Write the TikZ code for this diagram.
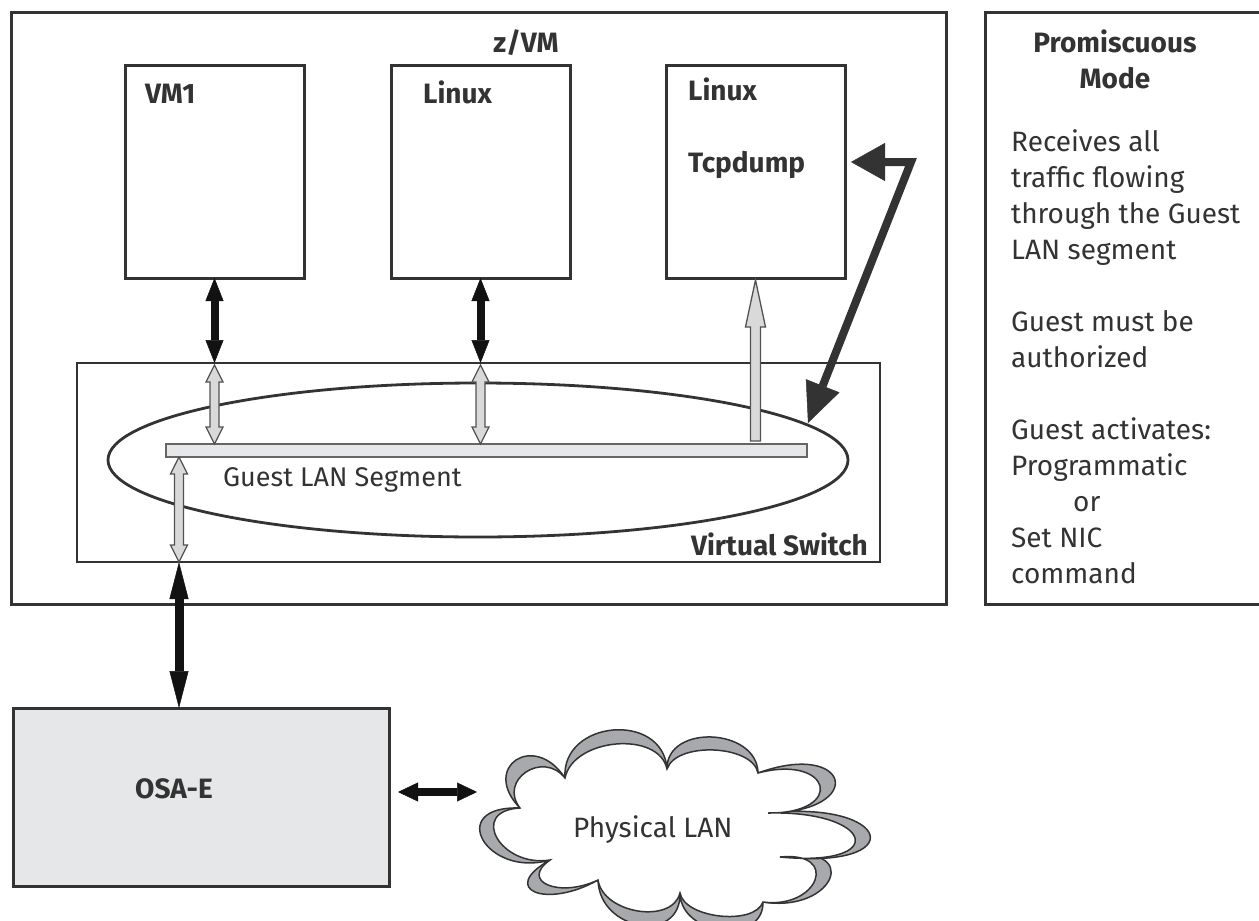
\documentclass[tikz,border=0pt]{standalone}
\usepackage{fontspec}
\setmainfont{Fira Sans}
\usetikzlibrary{arrows.meta,shapes.geometric,calc}
\definecolor{dark}{HTML}{333333}
\definecolor{lightfill}{HTML}{E6E7E8}
\definecolor{arrowgray}{HTML}{D9D9D9}
\definecolor{cloudgray}{HTML}{A7A9AC}
\newcommand\lobe[7]{.. controls ({(8*#5-#1-#3)/6+#7*(#1-#3)},{(8*#6-#2-#4)/6+#7*(#2-#4)}) and ({(8*#5-#1-#3)/6-#7*(#1-#3)},{(8*#6-#2-#4)/6-#7*(#2-#4)}) .. (#3,#4)}
\newcommand\gdbl[2]{\filldraw[grayarrow] let \p1=(#1), \p2=(#2) in
 (\x1-4.5pt,\y1-17pt) -- (\x1-8.5pt,\y1-17pt) -- (\x1,\y1) -- (\x1+8.5pt,\y1-17pt) -- (\x1+4.5pt,\y1-17pt)
 -- (\x1+4.5pt,\y2+17pt) -- (\x1+8.5pt,\y2+17pt) -- (\x1,\y2) -- (\x1-8.5pt,\y2+17pt) -- (\x1-4.5pt,\y2+17pt) -- cycle;}
\newcommand\gup[2]{\filldraw[grayarrow] let \p1=(#1), \p2=(#2) in
 (\x1,\y1) -- (\x1+10pt,\y1-47pt) -- (\x1+5pt,\y1-47pt) -- (\x1+5pt,\y2) -- (\x1-5pt,\y2) -- (\x1-5pt,\y1-47pt) -- (\x1-10pt,\y1-47pt) -- cycle;}
\begin{document}
\begin{tikzpicture}[x=1pt,y=-1pt,
  box/.style={draw=dark, line width=3pt, rectangle, inner sep=0pt, outer sep=0pt, anchor=north west},
  lbl/.style={inner sep=0pt, text=dark, font=\fontsize{28}{36}\selectfont\bfseries},
  txt/.style={inner sep=0pt, text=dark, font=\fontsize{28}{36}\selectfont},
  grayarrow/.style={fill=arrowgray, draw=black!68, line width=1.3pt, line join=miter},
  blackarrow/.style={draw=black!93, line width=8pt},
  cloudout/.style={fill=cloudgray, draw=dark, line width=1.5pt},
  cloudin/.style={fill=white, draw=dark, line width=1.5pt}]
\useasboundingbox (0,0) rectangle (1259,921);
\fill[white] (0,0) rectangle (1259,921);

% boxes
\node[box, minimum width=935pt, minimum height=592pt] (zvm) at (11,12) {};
\node[box, minimum width=179pt, minimum height=213pt] (vm1) at (125,65) {};
\node[box, minimum width=179pt, minimum height=213pt] (lx1) at (391,65) {};
\node[box, minimum width=179pt, minimum height=213pt] (lx2) at (666,65) {};
\node[box, line width=2.6pt, minimum width=803pt, minimum height=199pt] (vsw) at (77,363) {};
\node[ellipse, draw=dark, line width=2.8pt, minimum width=740pt, minimum height=154pt, inner sep=0pt] (ell) at (478,460) {};
\node[box, draw=black!60, line width=1.3pt, fill=lightfill, minimum width=641pt, minimum height=13pt] (bar) at (166,444) {};
\node[box, fill=lightfill, minimum width=376pt, minimum height=178pt] (osa) at (13,708) {};
\node[box, minimum width=290pt, minimum height=592pt] (panel) at (985,12) {};

% labels
\node[lbl, anchor=base] (zvmlbl) at (526,52) {z/VM};
\node[lbl, anchor=base west] (vm1lbl) at (145,103) {VM1};
\node[lbl, anchor=base west] (lx1lbl) at (423,103) {Linux};
\node[lbl, anchor=base west] (lx2lbl) at (688,100) {Linux};
\node[lbl, anchor=base west] (tcplbl) at (688,172) {Tcpdump};
\node[lbl, anchor=base east] (vswlbl) at (868,555) {Virtual Switch};
\node[lbl, anchor=base west] (osalbl) at (135,798) {OSA-E};
\node[txt, anchor=base west, font=\fontsize{27}{36}\selectfont] (seglbl) at (223,486) {Guest LAN Segment};

% panel text
\node[lbl, anchor=base] (p1) at (1115,52) {Promiscuous};
\node[lbl, anchor=base] (p2) at (1115,88) {Mode};
\foreach \t/\yy [count=\i] in {Receives all/151, traffic flowing/187, through the Guest/223, LAN segment/259,
  Guest must be/331, authorized/367, Guest activates:/439, Programmatic/475, Set NIC/547, command/583}
  \node[txt, anchor=base west] (pt\i) at (1011,\yy) {\t};
\node[txt, anchor=base west] (ptor) at (1073,511) {or};

% coordinates for connectors
\coordinate (gl) at ([xshift=13pt]bar.south west);
\coordinate (bentS) at ([xshift=6pt,yshift=9.5pt]lx2.east);
\coordinate (bentC) at (911,162);
\coordinate (bentE) at (808,423);
\coordinate (hS) at ([xshift=9pt]osa.east |- 0,792);
\coordinate (cloudL) at (477,792);

% black arrows
\draw[blackarrow, {Triangle[length=23pt,width=18pt,line width=0.5pt]}-{Triangle[length=23pt,width=18pt,line width=0.5pt]}]
  (vm1.south) -- (vm1.south |- vsw.north);
\draw[blackarrow, {Triangle[length=23pt,width=18pt,line width=0.5pt]}-{Triangle[length=23pt,width=18pt,line width=0.5pt]}]
  (lx1.south) -- (lx1.south |- vsw.north);
\draw[blackarrow, line width=9pt, {Triangle[length=37pt,width=19pt,line width=0.5pt]}-{Triangle[length=37pt,width=19pt,line width=0.5pt]}]
  (gl |- vsw.south) -- (gl |- osa.north);
\draw[blackarrow, {Triangle[length=20pt,width=19pt,line width=0.5pt]}-{Triangle[length=20pt,width=19pt,line width=0.5pt]}]
  (hS) -- (cloudL);

% gray arrows
\gdbl{$(vm1.south |- vsw.north)+(0,2)$}{vm1.south |- bar.north}
\gdbl{$(lx1.south |- vsw.north)+(0,2)$}{lx1.south |- bar.north}
\gdbl{gl}{gl |- vsw.south}
\gup{$(lx2.south)+(0,2)$}{$(lx2.south |- bar.north)+(0,-3)$}

% bent arrow
\draw[draw=dark, line width=8pt, line join=miter, {Triangle[length=34pt,width=38pt,line width=0.5pt]}-{Triangle[length=40pt,width=36pt,line width=0.5pt]}]
  (bentS) -- (bentC) -- (bentE);

% cloud
\filldraw[cloudout] (520,808) \lobe{520}{808}{565}{778}{516}{760}{0.6} \lobe{565}{778}{667}{769}{613}{730}{0.5}
  \lobe{667}{769}{758}{773}{712}{737}{0.5} \lobe{758}{773}{768}{813}{835}{780}{0.9}
  \lobe{768}{813}{780}{857}{870}{835}{0.8} \lobe{780}{857}{763}{902}{830}{878}{0.8}
  \lobe{763}{902}{680}{893}{722}{930}{0.5} \lobe{680}{893}{598}{880}{640}{925}{0.5}
  \lobe{598}{880}{550}{860}{535}{892}{0.5} \lobe{550}{860}{520}{808}{483}{840}{0.7} -- cycle;
\filldraw[cloudin] (520,808) \lobe{520}{808}{565}{778}{526}{772}{0.5} \lobe{565}{778}{667}{769}{616}{744}{0.42}
  \lobe{667}{769}{758}{773}{714}{750}{0.42} \lobe{758}{773}{768}{813}{820}{786}{0.75}
  \lobe{768}{813}{780}{857}{855}{838}{0.65} \lobe{780}{857}{763}{902}{815}{880}{0.65}
  \lobe{763}{902}{680}{893}{720}{916}{0.42} \lobe{680}{893}{598}{880}{638}{911}{0.42}
  \lobe{598}{880}{550}{860}{548}{885}{0.42} \lobe{550}{860}{520}{808}{497}{838}{0.55} -- cycle;
\node[txt, anchor=base west] (cloudlbl) at (573,837) {Physical LAN};
\end{tikzpicture}
\end{document}
